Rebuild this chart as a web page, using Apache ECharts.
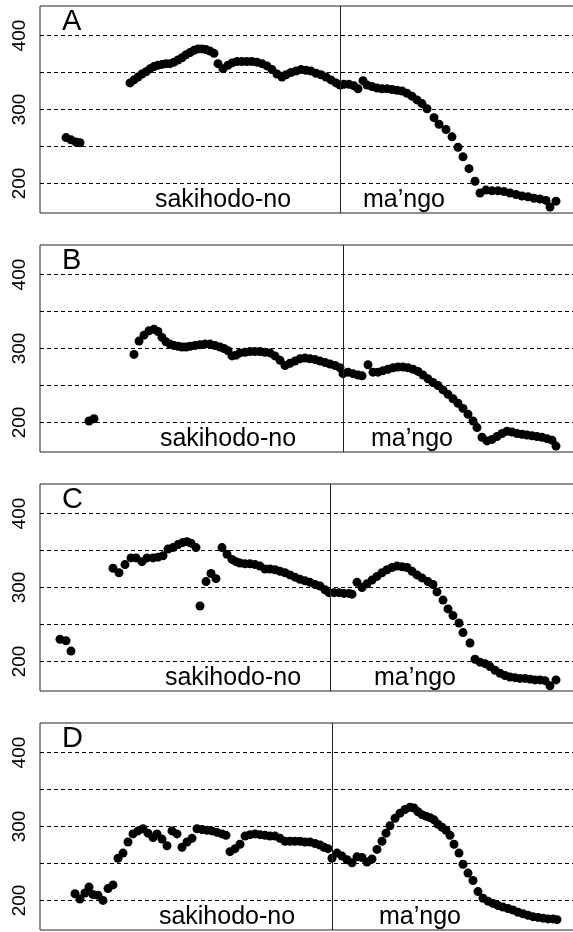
<!DOCTYPE html>
<html>
<head>
<meta charset="utf-8">
<title>f0 contours</title>
<script src="https://cdn.jsdelivr.net/npm/echarts@6.0.0/dist/echarts.min.js"></script>
<style>
  html, body { margin: 0; padding: 0; background: #fff; }
  #chart { width: 573px; height: 932px; }
</style>
</head>
<body>
<div id="chart"></div>
<script>
// f0 (Hz) per sample, [time, f0]
const pointsA = [
  [26,262],[31,259],[36,256],[40,255],
  [90,336],[94,340],[98,344],[102,348],[106,351],[110,355],[114,358],[118,360],[122,361],[126,362],
  [130,362],[134,364],[138,367],[142,370],[146,374],[150,377],[154,380],[158,382],[162,382],[166,381],
  [170,379],[174,376],[178,362],[183,355],[188,360],[192,363],[197,365],[202,365],[207,365],[212,365],
  [217,364],[222,362],[227,359],[232,354],[237,348],[242,344],[246,347],[251,350],[256,352],[261,354],
  [266,353],[271,352],[276,349],[281,347],[286,344],[291,340],[296,336],[300,333],[304,334],[309,334],
  [314,332],[318,328],[323,339],[327,333],[332,331],[337,329],[342,328],[347,328],[352,327],[357,326],
  [362,325],[367,322],[372,318],[377,313],[382,308],[387,301],[394,289],[399,280],[406,273],[412,263],
  [418,249],[423,236],[429,220],[435,203],[440,187],[446,191],[452,190],[458,190],[464,189],[470,187],
  [476,185],[482,183],[488,182],[494,180],[500,179],[506,177],[510,168],[516,176]
]
const pointsB = [
  [49,202],[54,205],
  [94,292],[99,310],[104,318],[109,324],[114,326],[118,323],[122,315],[126,309],[130,306],[134,304],
  [138,303],[142,302],[146,302],[150,303],[155,304],[160,305],[165,306],[170,306],[175,304],[180,302],
  [184,300],[188,297],[192,290],[196,291],[200,294],[205,295],[210,296],[215,296],[220,296],[225,295],
  [230,294],[235,290],[240,284],[245,277],[250,280],[255,283],[260,286],[265,287],[270,286],[275,285],
  [280,283],[285,281],[290,279],[295,277],[300,274],[303,266],[308,268],[313,266],[318,264],[322,263],
  [328,278],[333,268],[338,268],[343,270],[348,272],[353,274],[358,275],[363,275],[368,274],[373,272],
  [378,269],[383,264],[388,259],[393,254],[398,250],[403,244],[408,238],[413,232],[418,226],[423,219],
  [428,211],[433,202],[437,193],[442,180],[447,175],[452,177],[457,181],[462,185],[467,188],[472,187],
  [477,185],[482,184],[487,183],[492,182],[497,181],[502,180],[507,178],[512,176],[516,168]
]
const pointsC = [
  [20,230],[26,228],[31,214],
  [73,326],[79,320],[85,331],[91,340],[96,340],[102,335],[107,340],[113,340],[118,341],[123,343],
  [128,352],[133,354],[138,358],[143,361],[147,362],[151,360],[156,354],[160,275],[166,308],[171,319],
  [176,312],[182,354],[187,345],[192,338],[196,335],[200,333],[205,332],[210,332],[215,331],[220,329],
  [225,325],[230,325],[235,324],[240,322],[245,320],[250,317],[255,314],[260,311],[265,309],[270,307],
  [275,304],[280,302],[285,297],[289,293],[294,293],[299,293],[304,292],[309,292],[312,291],[317,307],
  [322,300],[327,305],[332,310],[337,315],[342,320],[347,324],[352,327],[357,329],[362,328],[367,327],
  [372,322],[377,317],[382,313],[388,308],[393,304],[397,294],[403,283],[408,271],[413,262],[419,252],
  [423,239],[430,225],[435,203],[440,199],[445,197],[450,193],[455,188],[460,184],[465,181],[470,179],
  [475,178],[480,177],[485,177],[490,176],[495,175],[500,175],[505,174],[510,167],[516,175]
]
const pointsD = [
  [35,209],[40,202],[45,210],[49,218],[53,208],[58,207],[63,200],[68,216],[73,221],[78,257],[83,264],
  [88,279],[93,290],[98,294],[103,297],[108,291],[113,285],[117,290],[122,283],[127,274],[132,294],
  [137,290],[142,272],[147,279],[152,284],[157,297],[162,296],[167,295],[172,294],[177,292],[182,290],
  [186,288],[190,266],[195,270],[200,276],[205,287],[210,289],[215,290],[220,289],[225,288],[230,287],
  [235,287],[240,284],[245,280],[250,280],[255,280],[260,280],[265,279],[270,279],[275,277],[280,275],
  [284,272],[288,270],[292,257],[297,264],[302,260],[307,255],[312,251],[317,259],[322,258],[327,252],
  [332,256],[337,269],[342,280],[346,291],[350,301],[355,311],[360,318],[365,323],[370,326],[374,325],
  [378,320],[382,316],[386,314],[390,312],[394,309],[398,303],[402,299],[406,295],[410,288],[414,276],
  [419,264],[423,249],[428,237],[433,227],[438,212],[443,203],[448,199],[453,196],[458,193],[463,191],
  [468,189],[473,187],[478,184],[483,182],[488,180],[493,178],[498,177],[503,176],[508,175],[513,175],
  [517,174]
]

const panelNames = ['A', 'B', 'C', 'D']
const panelPoints = [pointsA, pointsB, pointsC, pointsD]
// time where "sakihodo-no" ends and "ma'ngo" starts
const boundaries = [300, 303, 290, 292]
// word label centres (time units)
const word1Pos = [183, 188, 193, 187]
const word2Pos = [364, 372, 375, 380]
const words = ['sakihodo-no', 'ma\u2019ngo']
const gridValues = [200, 250, 300, 350, 400]

const FONT = '"Liberation Sans", Arial, Helvetica, sans-serif'
const panelTop = [6, 245, 484, 723]
const panelH = 207
const plotLeft = 40
const plotW = 535

const grids = [], xAxes = [], yAxes = [], series = [], graphics = []

panelPoints.forEach((pts, i) => {
  grids.push({
    left: plotLeft, top: panelTop[i], width: plotW, height: panelH,
    show: true, borderColor: '#222', borderWidth: 1, backgroundColor: '#fff',
    containLabel: false, outerBoundsMode: 'none'
  })
  xAxes.push({
    gridIndex: i, type: 'value', min: 0, max: plotW,
    show: false, splitLine: { show: false }
  })
  yAxes.push({
    gridIndex: i, type: 'value', min: 160, max: 440, interval: 10,
    axisLine: { show: false }, axisTick: { show: false }, splitLine: { show: false },
    axisLabel: {
      rotate: 90, margin: 11, fontSize: 19, color: '#000', fontFamily: FONT,
      formatter: v => (v % 100 === 0 ? String(v) : '')
    }
  })
  series.push({
    type: 'scatter', xAxisIndex: i, yAxisIndex: i,
    data: pts, symbol: 'circle', symbolSize: 9,
    itemStyle: { color: '#000', opacity: 1 },
    emphasis: { disabled: true },
    markLine: {
      silent: true, symbol: ['none', 'none'], label: { show: false },
      data: gridValues.map(v => ({ yAxis: v, lineStyle: { type: [4, 3], color: '#000', width: 1 } }))
        .concat([{ xAxis: boundaries[i], lineStyle: { type: 'solid', color: '#222', width: 1 } }])
    }
  })
})

const chart = echarts.init(document.getElementById('chart'), null, { renderer: 'canvas' })
chart.setOption({
  animation: false,
  backgroundColor: '#fff',
  grid: grids,
  xAxis: xAxes,
  yAxis: yAxes,
  series: series
})

// panel letters and word labels placed from data coords
panelNames.forEach((name, i) => {
  const top = panelTop[i]
  graphics.push({
    type: 'text', left: 62, top: top + 1, z: 100,
    style: { text: name, fontSize: 29, fontFamily: FONT, fill: '#000' }
  })
  ;[word1Pos[i], word2Pos[i]].forEach((t, k) => {
    const px = chart.convertToPixel({ xAxisIndex: i }, t)
    graphics.push({
      type: 'text', x: px, y: top + 207, z: 100,
      style: {
        text: words[k], fontSize: 25, fontFamily: FONT, fill: '#000',
        align: 'center', verticalAlign: 'bottom'
      }
    })
  })
})
chart.setOption({ graphic: graphics })
</script>
</body>
</html>
